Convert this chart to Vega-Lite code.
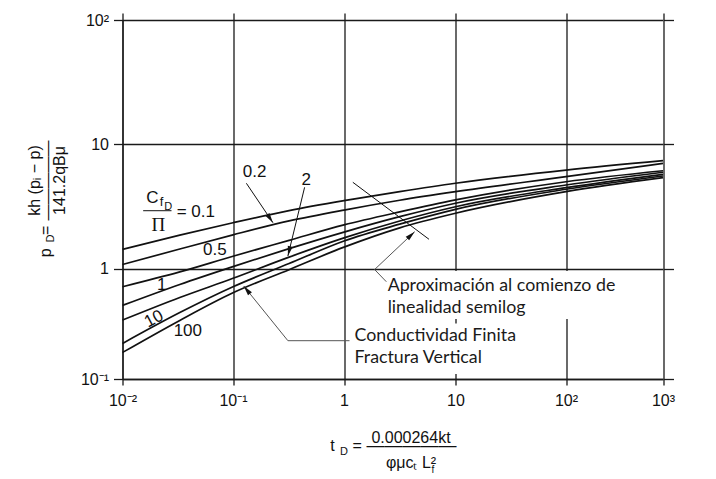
{
  "$schema": "https://vega.github.io/schema/vega-lite/v6.json",
  "width": 541,
  "height": 359,
  "autosize": {"type": "none"},
  "padding": {"left": 122.5, "top": 20, "right": 52.5, "bottom": 100},
  "background": "white",
  "config": {
    "view": {"stroke": null},
    "font": "Liberation Sans",
    "axis": {
      "labelFont": "Liberation Sans", "titleFont": "Liberation Sans",
      "labelColor": "#111", "titleColor": "#111", "titleFontWeight": "normal",
      "labelFontSize": 16, "titleFontSize": 16,
      "tickColor": "#1a1a1a", "domainColor": "#1a1a1a", "gridColor": "#1a1a1a",
      "gridOpacity": 1, "gridWidth": 1.3, "domainWidth": 1.3, "tickWidth": 1.3
    }
  },
  "datasets": {
    "boxes": [
      {"x0": 2.0, "x1": 374, "y0": 0.350, "y1": 0.953},
      {"x0": 1.12, "x1": 39.7, "y0": 0.111, "y1": 0.3185}
    ],
    "curves": [
      {"c": "0.1", "t": 0.01, "p": 1.43}, {"c": "0.1", "t": 0.033, "p": 1.86}, {"c": "0.1", "t": 0.1, "p": 2.34},
      {"c": "0.1", "t": 0.32, "p": 2.93}, {"c": "0.1", "t": 1, "p": 3.52}, {"c": "0.1", "t": 3.16, "p": 4.16},
      {"c": "0.1", "t": 10, "p": 4.86}, {"c": "0.1", "t": 100, "p": 6.21}, {"c": "0.1", "t": 1000, "p": 7.38},
      {"c": "0.2", "t": 0.01, "p": 1.08}, {"c": "0.2", "t": 0.033, "p": 1.44}, {"c": "0.2", "t": 0.1, "p": 1.87},
      {"c": "0.2", "t": 0.32, "p": 2.42}, {"c": "0.2", "t": 1, "p": 2.96}, {"c": "0.2", "t": 3.16, "p": 3.55},
      {"c": "0.2", "t": 10, "p": 4.16}, {"c": "0.2", "t": 100, "p": 5.49}, {"c": "0.2", "t": 1000, "p": 7.03},
      {"c": "0.5", "t": 0.01, "p": 0.686}, {"c": "0.5", "t": 0.033, "p": 0.935}, {"c": "0.5", "t": 0.1, "p": 1.26},
      {"c": "0.5", "t": 0.32, "p": 1.69}, {"c": "0.5", "t": 1, "p": 2.25}, {"c": "0.5", "t": 3.16, "p": 2.86},
      {"c": "0.5", "t": 10, "p": 3.57}, {"c": "0.5", "t": 100, "p": 5.0}, {"c": "0.5", "t": 1000, "p": 6.13},
      {"c": "1", "t": 0.01, "p": 0.465}, {"c": "1", "t": 0.033, "p": 0.72}, {"c": "1", "t": 0.1, "p": 1.04},
      {"c": "1", "t": 0.32, "p": 1.45}, {"c": "1", "t": 1, "p": 1.97}, {"c": "1", "t": 3.16, "p": 2.62},
      {"c": "1", "t": 10, "p": 3.36}, {"c": "1", "t": 100, "p": 4.71}, {"c": "1", "t": 1000, "p": 5.96},
      {"c": "2", "t": 0.01, "p": 0.342}, {"c": "2", "t": 0.033, "p": 0.548}, {"c": "2", "t": 0.1, "p": 0.818},
      {"c": "2", "t": 0.32, "p": 1.24}, {"c": "2", "t": 1, "p": 1.77}, {"c": "2", "t": 3.16, "p": 2.42},
      {"c": "2", "t": 10, "p": 3.15}, {"c": "2", "t": 100, "p": 4.48}, {"c": "2", "t": 1000, "p": 5.74},
      {"c": "10", "t": 0.01, "p": 0.21}, {"c": "10", "t": 0.033, "p": 0.40}, {"c": "10", "t": 0.1, "p": 0.686},
      {"c": "10", "t": 0.32, "p": 1.10}, {"c": "10", "t": 1, "p": 1.67}, {"c": "10", "t": 3.16, "p": 2.28},
      {"c": "10", "t": 10, "p": 3.0}, {"c": "10", "t": 100, "p": 4.35}, {"c": "10", "t": 1000, "p": 5.56},
      {"c": "100", "t": 0.01, "p": 0.174}, {"c": "100", "t": 0.033, "p": 0.34}, {"c": "100", "t": 0.1, "p": 0.605},
      {"c": "100", "t": 0.32, "p": 0.98}, {"c": "100", "t": 1, "p": 1.49}, {"c": "100", "t": 3.16, "p": 2.13},
      {"c": "100", "t": 10, "p": 2.79}, {"c": "100", "t": 100, "p": 4.16}, {"c": "100", "t": 1000, "p": 5.39}
    ],
    "segments": [
      {"kind": "arrow", "x0": 0.132, "y0": 4.86, "x1": 0.229, "y1": 2.343},
      {"kind": "arrow", "x0": 0.4416, "y0": 4.51, "x1": 0.3123, "y1": 1.265},
      {"kind": "pointer", "x0": 1.121, "y0": 0.2225, "x1": 0.3123, "y1": 0.2225},
      {"kind": "pointer", "x0": 0.3123, "y0": 0.2225, "x1": 0.1248, "y1": 0.697},
      {"kind": "pointer", "x0": 2.396, "y0": 0.762, "x1": 1.881, "y1": 0.983},
      {"kind": "pointer", "x0": 1.881, "y0": 0.983, "x1": 4.305, "y1": 1.984},
      {"kind": "line", "x0": 1.2, "y0": 4.95, "x1": 5.789, "y1": 1.723},
      {"kind": "bar", "x0": 0.01538, "y0": 2.925, "x1": 0.02777, "y1": 2.925}
    ],
    "heads": [
      {"x": 0.229, "y": 2.343, "dir": 146},
      {"x": 0.3123, "y": 1.265, "dir": 193.7},
      {"x": 0.1248, "y": 0.697, "dir": -39},
      {"x": 4.305, "y": 1.984, "dir": 46.6}
    ],
    "labels": [
      {"label": "0.2", "x": 0.1567, "y": 5.99},
      {"label": "2", "x": 0.457, "y": 5.21},
      {"label": "0.5", "x": 0.0684, "y": 1.413},
      {"label": "1", "x": 0.0227, "y": 0.711},
      {"label": "10", "x": 0.01923, "y": 0.35},
      {"label": "100", "x": 0.039, "y": 0.272},
      {"label": "C", "x": 0.01862, "y": 3.735},
      {"label": "f", "x": 0.02254, "y": 3.457},
      {"label": "D", "x": 0.02587, "y": 3.151},
      {"label": "= 0.1", "x": 0.04603, "y": 2.83}
    ],
    "greek": [
      {"label": "Π", "x": 0.0211, "y": 2.245}
    ],
    "notes": [
      {"label": "Aproximación al comienzo de", "x": 2.462, "y": 0.628},
      {"label": "linealidad semilog", "x": 2.462, "y": 0.3966},
      {"label": "Conductividad Finita", "x": 1.243, "y": 0.2211},
      {"label": "Fractura Vertical", "x": 1.243, "y": 0.1396}
    ]
  },
  "layer": [
    {
      "data": {"name": "boxes"},
      "mark": {"type": "rect", "fill": "white", "strokeWidth": 0},
      "encoding": {
        "x": {
          "field": "x0", "type": "quantitative",
          "scale": {"type": "log", "domain": [0.01, 0.1, 1, 10, 100, 1000], "range": [0, 110.5, 221.5, 333, 443.5, 540.5], "nice": false},
          "axis": {
            "orient": "bottom", "values": [0.01, 0.1, 1, 10, 100, 1000],
            "labelExpr": "datum.value < 0.05 ? '10⁻²' : datum.value < 0.5 ? '10⁻¹' : datum.value < 5 ? '1' : datum.value < 50 ? '10' : datum.value < 500 ? '10²' : '10³'",
            "grid": true, "tickSize": 6, "labelPadding": 7, "labelOverlap": false, "labelFlush": false,
            "title": ["0.000264kt", "φμcₜ L²"], "titleX": 288, "titleY": 63.5,
            "titleBaseline": "alphabetic", "titleAlign": "center", "titleLineHeight": 24.5
          }
        },
        "x2": {"field": "x1"},
        "y": {
          "field": "y0", "type": "quantitative",
          "scale": {"type": "log", "domain": [0.1, 1, 10, 100], "range": [359, 248.7, 124.3, 0], "nice": false},
          "axis": {
            "orient": "left", "values": [0.1, 1, 10, 100],
            "labelExpr": "datum.value < 0.5 ? '10⁻¹' : datum.value < 5 ? '1' : datum.value < 50 ? '10' : '10²'",
            "grid": true, "tickSize": 9, "labelPadding": 5, "labelOverlap": false, "labelFlush": false,
            "title": ["kh (pᵢ − p)", "141.2qBμ"], "titleX": -83.5, "titleY": 160, "titleAngle": -90,
            "titleBaseline": "alphabetic", "titleAlign": "center", "titleLineHeight": 25.5
          }
        },
        "y2": {"field": "y1"}
      }
    },
    {
      "data": {"name": "curves"},
      "mark": {"type": "line", "stroke": "#111", "strokeWidth": 1.7, "interpolate": "monotone"},
      "encoding": {
        "x": {
          "field": "t", "type": "quantitative",
          "scale": {"type": "log", "domain": [0.01, 0.1, 1, 10, 100, 1000], "range": [0, 110.5, 221.5, 333, 443.5, 540.5], "nice": false},
          "axis": {"orient": "top", "values": [0.01, 0.1, 1, 10, 100, 1000], "labels": false, "domain": false, "grid": false, "tickSize": 7, "title": null}
        },
        "y": {
          "field": "p", "type": "quantitative",
          "scale": {"type": "log", "domain": [0.1, 1, 10, 100], "range": [359, 248.7, 124.3, 0], "nice": false},
          "axis": {"orient": "right", "values": [0.1, 1, 10, 100], "labels": false, "domain": false, "grid": false, "tickSize": 10, "title": null}
        },
        "detail": {"field": "c"}
      }
    },
    {
      "data": {"name": "segments"},
      "mark": {"type": "rule", "strokeWidth": 1},
      "encoding": {
        "x": {
          "field": "x0", "type": "quantitative",
          "scale": {"type": "log", "domain": [0.01, 0.1, 1, 10, 100, 1000], "range": [0, 110.5, 221.5, 333, 443.5, 540.5], "nice": false},
          "axis": {"orient": "bottom", "labels": false, "ticks": false, "domain": false, "grid": false,
                   "title": "—————", "titleFontSize": 18, "titleX": 288.5, "titleY": 71, "titleBaseline": "alphabetic", "titleAlign": "center"}
        },
        "x2": {"field": "x1"},
        "y": {
          "field": "y0", "type": "quantitative",
          "scale": {"type": "log", "domain": [0.1, 1, 10, 100], "range": [359, 248.7, 124.3, 0], "nice": false},
          "axis": {"orient": "left", "labels": false, "ticks": false, "domain": false, "grid": false,
                   "title": "—————", "titleX": -70.4, "titleY": 160, "titleAngle": -90, "titleBaseline": "alphabetic", "titleAlign": "center"}
        },
        "y2": {"field": "y1"},
        "stroke": {"condition": {"test": "datum.kind === 'pointer'", "value": "#555"}, "value": "#111"}
      }
    },
    {
      "data": {"name": "heads"},
      "mark": {"type": "point", "shape": "M0,0L0.5,2L-0.5,2Z", "filled": true, "fill": "#111", "opacity": 1, "strokeWidth": 0, "size": 100},
      "encoding": {
        "x": {
          "field": "x", "type": "quantitative",
          "scale": {"type": "log", "domain": [0.01, 0.1, 1, 10, 100, 1000], "range": [0, 110.5, 221.5, 333, 443.5, 540.5], "nice": false},
          "axis": {"orient": "bottom", "labels": false, "ticks": false, "domain": false, "grid": false,
                   "title": "t\u00a0\u00a0\u00a0\u00a0=", "titleX": 223, "titleY": 71, "titleBaseline": "alphabetic", "titleAlign": "center"}
        },
        "y": {
          "field": "y", "type": "quantitative",
          "scale": {"type": "log", "domain": [0.1, 1, 10, 100], "range": [359, 248.7, 124.3, 0], "nice": false},
          "axis": {"orient": "left", "labels": false, "ticks": false, "domain": false, "grid": false,
                   "title": "p\u00a0\u00a0\u00a0=", "titleX": -72.5, "titleY": 221, "titleAngle": -90, "titleBaseline": "alphabetic", "titleAlign": "center"}
        },
        "angle": {"field": "dir", "type": "quantitative", "scale": null}
      }
    },
    {
      "data": {"name": "labels"},
      "mark": {"type": "text", "font": "Liberation Sans", "fill": "#111", "align": "center", "baseline": "middle"},
      "encoding": {
        "x": {
          "field": "x", "type": "quantitative",
          "scale": {"type": "log", "domain": [0.01, 0.1, 1, 10, 100, 1000], "range": [0, 110.5, 221.5, 333, 443.5, 540.5], "nice": false},
          "axis": {"orient": "bottom", "labels": false, "ticks": false, "domain": false, "grid": false,
                   "title": "D", "titleFontSize": 11, "titleX": 221, "titleY": 75.5, "titleBaseline": "alphabetic", "titleAlign": "center"}
        },
        "y": {
          "field": "y", "type": "quantitative",
          "scale": {"type": "log", "domain": [0.1, 1, 10, 100], "range": [359, 248.7, 124.3, 0], "nice": false},
          "axis": {"orient": "left", "labels": false, "ticks": false, "domain": false, "grid": false,
                   "title": "D", "titleFontSize": 11, "titleX": -69.5, "titleY": 218, "titleAngle": -90, "titleBaseline": "alphabetic", "titleAlign": "center"}
        },
        "text": {"field": "label"},
        "size": {"condition": [{"test": "datum.label === 'f'", "value": 13}, {"test": "datum.label === 'D'", "value": 11}], "value": 17},
        "angle": {"condition": {"test": "datum.label === '10'", "value": 332}, "value": 0}
      }
    },
    {
      "data": {"name": "greek"},
      "mark": {"type": "text", "font": "Liberation Serif", "fontSize": 19, "fill": "#111", "align": "center", "baseline": "middle"},
      "encoding": {
        "x": {
          "field": "x", "type": "quantitative",
          "scale": {"type": "log", "domain": [0.01, 0.1, 1, 10, 100, 1000], "range": [0, 110.5, 221.5, 333, 443.5, 540.5], "nice": false},
          "axis": {"orient": "bottom", "labels": false, "ticks": false, "domain": false, "grid": false,
                   "title": "f", "titleFontSize": 10, "titleX": 310, "titleY": 93.5, "titleBaseline": "alphabetic", "titleAlign": "center"}
        },
        "y": {
          "field": "y", "type": "quantitative",
          "scale": {"type": "log", "domain": [0.1, 1, 10, 100], "range": [359, 248.7, 124.3, 0], "nice": false},
          "axis": null
        },
        "text": {"field": "label"}
      }
    },
    {
      "data": {"name": "notes"},
      "mark": {"type": "text", "font": "Lato", "fontSize": 17.8, "fill": "#1a1a1a", "align": "left", "baseline": "alphabetic"},
      "encoding": {
        "x": {
          "field": "x", "type": "quantitative",
          "scale": {"type": "log", "domain": [0.01, 0.1, 1, 10, 100, 1000], "range": [0, 110.5, 221.5, 333, 443.5, 540.5], "nice": false},
          "axis": null
        },
        "y": {
          "field": "y", "type": "quantitative",
          "scale": {"type": "log", "domain": [0.1, 1, 10, 100], "range": [359, 248.7, 124.3, 0], "nice": false},
          "axis": null
        },
        "text": {"field": "label"}
      }
    }
  ],
  "resolve": {"axis": {"x": "independent", "y": "independent"}}
}
